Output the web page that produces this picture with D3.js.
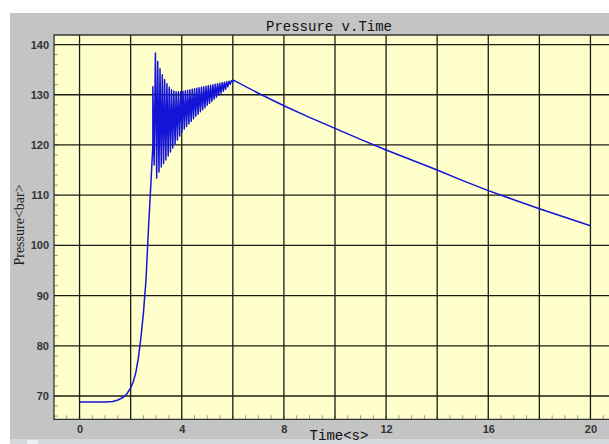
<!DOCTYPE html>
<html>
<head>
<meta charset="utf-8">
<script src="https://cdn.jsdelivr.net/npm/d3@7"></script>
<style>
  body { margin: 0; background: #fff; }
  svg { display: block; }
</style>
</head>
<body>
<svg width="609" height="444"></svg>
<script>
// rise from rest up to the first overshoot
var riseTime = [0, 0.5, 1.0, 1.3, 1.5, 1.7, 1.85, 2.0, 2.1, 2.2, 2.3, 2.4, 2.5, 2.6, 2.7, 2.8, 2.87]
var risePressure = [68.8, 68.8, 68.8, 68.9, 69.2, 69.7, 70.4, 71.6, 72.8, 74.6, 77.5, 81.5, 86.5, 93, 103.5, 113, 120]

// oscillation peaks and troughs, [time, pressure]
var oscHigh = [[2.87, 131.6], [2.97, 138.3], [3.06, 136.6], [3.15, 135.2], [3.24, 134.0], [3.33, 133.0], [3.42, 132.2],
  [3.51, 131.5], [3.60, 131.0], [3.69, 130.7], [3.78, 130.6], [3.87, 130.6], [3.96, 130.6], [4.05, 130.7],
  [4.14, 130.8], [4.23, 130.9], [4.32, 131.0], [4.41, 131.1], [4.50, 131.2], [4.59, 131.3], [4.68, 131.4],
  [4.77, 131.5], [4.86, 131.6], [4.95, 131.7], [5.04, 131.8], [5.13, 131.9], [5.22, 132.0], [5.31, 132.1],
  [5.40, 132.2], [5.49, 132.3], [5.58, 132.4], [5.67, 132.5], [5.76, 132.6], [5.85, 132.7], [5.94, 132.8]]
var oscLow = [[2.92, 116.0], [3.02, 113.4], [3.11, 114.6], [3.20, 115.6], [3.29, 116.3], [3.38, 117.0], [3.47, 117.8],
  [3.56, 118.6], [3.65, 119.4], [3.74, 120.2], [3.83, 121.0], [3.92, 121.8], [4.01, 122.6], [4.10, 123.2],
  [4.19, 123.7], [4.28, 124.2], [4.37, 124.7], [4.46, 125.2], [4.55, 125.7], [4.64, 126.1], [4.73, 126.6],
  [4.82, 127.0], [4.91, 127.4], [5.00, 127.9], [5.09, 128.3], [5.18, 128.7], [5.27, 129.1], [5.36, 129.5],
  [5.45, 129.9], [5.54, 130.3], [5.63, 130.7], [5.72, 131.1], [5.81, 131.6], [5.90, 132.1], [5.99, 132.6]]

// slow bleed-down after the peak
var decayTime = [6.02, 7, 8, 9, 10, 11, 12, 13, 14, 15, 16, 17, 18, 19, 20]
var decayPressure = [132.9, 130.3, 127.8, 125.5, 123.3, 121.1, 119.0, 117.0, 115.0, 112.9, 110.9, 109.1, 107.3, 105.6, 103.9]

var xTicks = [0, 4, 8, 12, 16, 20]
var xGrid = [0, 2, 4, 6, 8, 10, 12, 14, 16, 18, 20]
var yTicks = [70, 80, 90, 100, 110, 120, 130, 140]

var svg = d3.select('svg')
var pLeft = 54, pRight = 616, pTop = 35, pBottom = 419.3

var x = d3.scaleLinear().domain([-1, 21]).range([pLeft, pRight])
var y = d3.scaleLinear().domain([65.36, 141.9]).range([pBottom, pTop])

// grey window panel
svg.append('rect').attr('x', 10).attr('y', 13).attr('width', 620).attr('height', 440).attr('fill', '#c4c4c4')
svg.append('rect').attr('x', 10).attr('y', 439).attr('width', 620).attr('height', 6).attr('fill', '#d5d8dc')
svg.append('rect').attr('x', 27).attr('y', 440).attr('width', 11).attr('height', 4).attr('fill', '#eef0f2')

svg.append('rect')
    .attr('x', pLeft).attr('y', pTop)
    .attr('width', pRight - pLeft).attr('height', pBottom - pTop)
    .attr('fill', '#ffffcc')

var minorX = d3.range(-1, 21.01, 0.5)
var minorY = d3.range(66, 141, 2)

svg.append('g').selectAll('line').data(minorX).enter().append('line')
    .attr('x1', function (d) { return x(d); }).attr('x2', function (d) { return x(d); })
    .attr('y1', pBottom).attr('y2', pBottom - 4)
    .attr('stroke', '#9a9a8a').attr('stroke-width', 1)

svg.append('g').selectAll('line').data(minorY).enter().append('line')
    .attr('x1', pLeft).attr('x2', pLeft + 4)
    .attr('y1', function (d) { return y(d); }).attr('y2', function (d) { return y(d); })
    .attr('stroke', '#9a9a8a').attr('stroke-width', 1)

// grid
svg.append('g').selectAll('line').data(xGrid).enter().append('line')
    .attr('x1', function (d) { return x(d); }).attr('x2', function (d) { return x(d); })
    .attr('y1', pTop).attr('y2', pBottom)
    .attr('stroke', '#1c1c14').attr('stroke-width', 1.3)

svg.append('g').selectAll('line').data(yTicks).enter().append('line')
    .attr('x1', pLeft).attr('x2', pRight)
    .attr('y1', function (d) { return y(d); }).attr('y2', function (d) { return y(d); })
    .attr('stroke', '#1c1c14').attr('stroke-width', 1.3)

// frame (left, top, bottom)
svg.append('path')
    .attr('d', 'M' + pRight + ',' + pTop + 'H' + pLeft + 'V' + pBottom + 'H' + pRight)
    .attr('fill', 'none').attr('stroke', '#333').attr('stroke-width', 1.3)

// data
var pts = []
riseTime.forEach(function (t, i) { pts.push([t, risePressure[i]]); })
var osc = oscHigh.concat(oscLow).sort(function (a, b) { return a[0] - b[0]; })
pts = pts.concat(osc)
decayTime.forEach(function (t, i) { pts.push([t, decayPressure[i]]); })

var line = d3.line()
    .x(function (d) { return x(d[0]); })
    .y(function (d) { return y(d[1]); })

svg.append('path')
    .datum(pts)
    .attr('d', line)
    .attr('fill', 'none')
    .attr('stroke', '#1414d6')
    .attr('stroke-width', 1.5)
    .attr('stroke-linejoin', 'round')

// axes labels
var xAxis = svg.append('g')
    .attr('transform', 'translate(0,' + pBottom + ')')
    .call(d3.axisBottom(x).tickValues(xTicks).tickSize(0).tickPadding(6).tickFormat(d3.format('d')))
xAxis.select('.domain').remove()
xAxis.selectAll('text').attr('font-family', 'Liberation Sans, sans-serif').attr('font-size', 11)
    .attr('fill', '#333').attr('font-weight', 'bold')

var yAxis = svg.append('g')
    .attr('transform', 'translate(' + pLeft + ',0)')
    .call(d3.axisLeft(y).tickValues(yTicks).tickSize(0).tickPadding(5).tickFormat(d3.format('d')))
yAxis.select('.domain').remove()
yAxis.selectAll('text').attr('font-family', 'Liberation Sans, sans-serif').attr('font-size', 11)
    .attr('fill', '#333').attr('font-weight', 'bold')

svg.append('text')
    .attr('x', 329).attr('y', 31)
    .attr('text-anchor', 'middle')
    .attr('font-family', 'Liberation Mono, monospace').attr('font-size', 14)
    .attr('fill', '#111')
    .text('Pressure v.Time')

svg.append('text')
    .attr('x', 339).attr('y', 440)
    .attr('text-anchor', 'middle')
    .attr('font-family', 'Liberation Mono, monospace').attr('font-size', 14)
    .attr('fill', '#111')
    .text('Time<s>')

svg.append('text')
    .attr('transform', 'translate(24,225) rotate(-90)')
    .attr('text-anchor', 'middle')
    .attr('font-family', 'Liberation Serif, serif').attr('font-size', 14)
    .attr('fill', '#222')
    .text('Pressure<bar>')
</script>
</body>
</html>
